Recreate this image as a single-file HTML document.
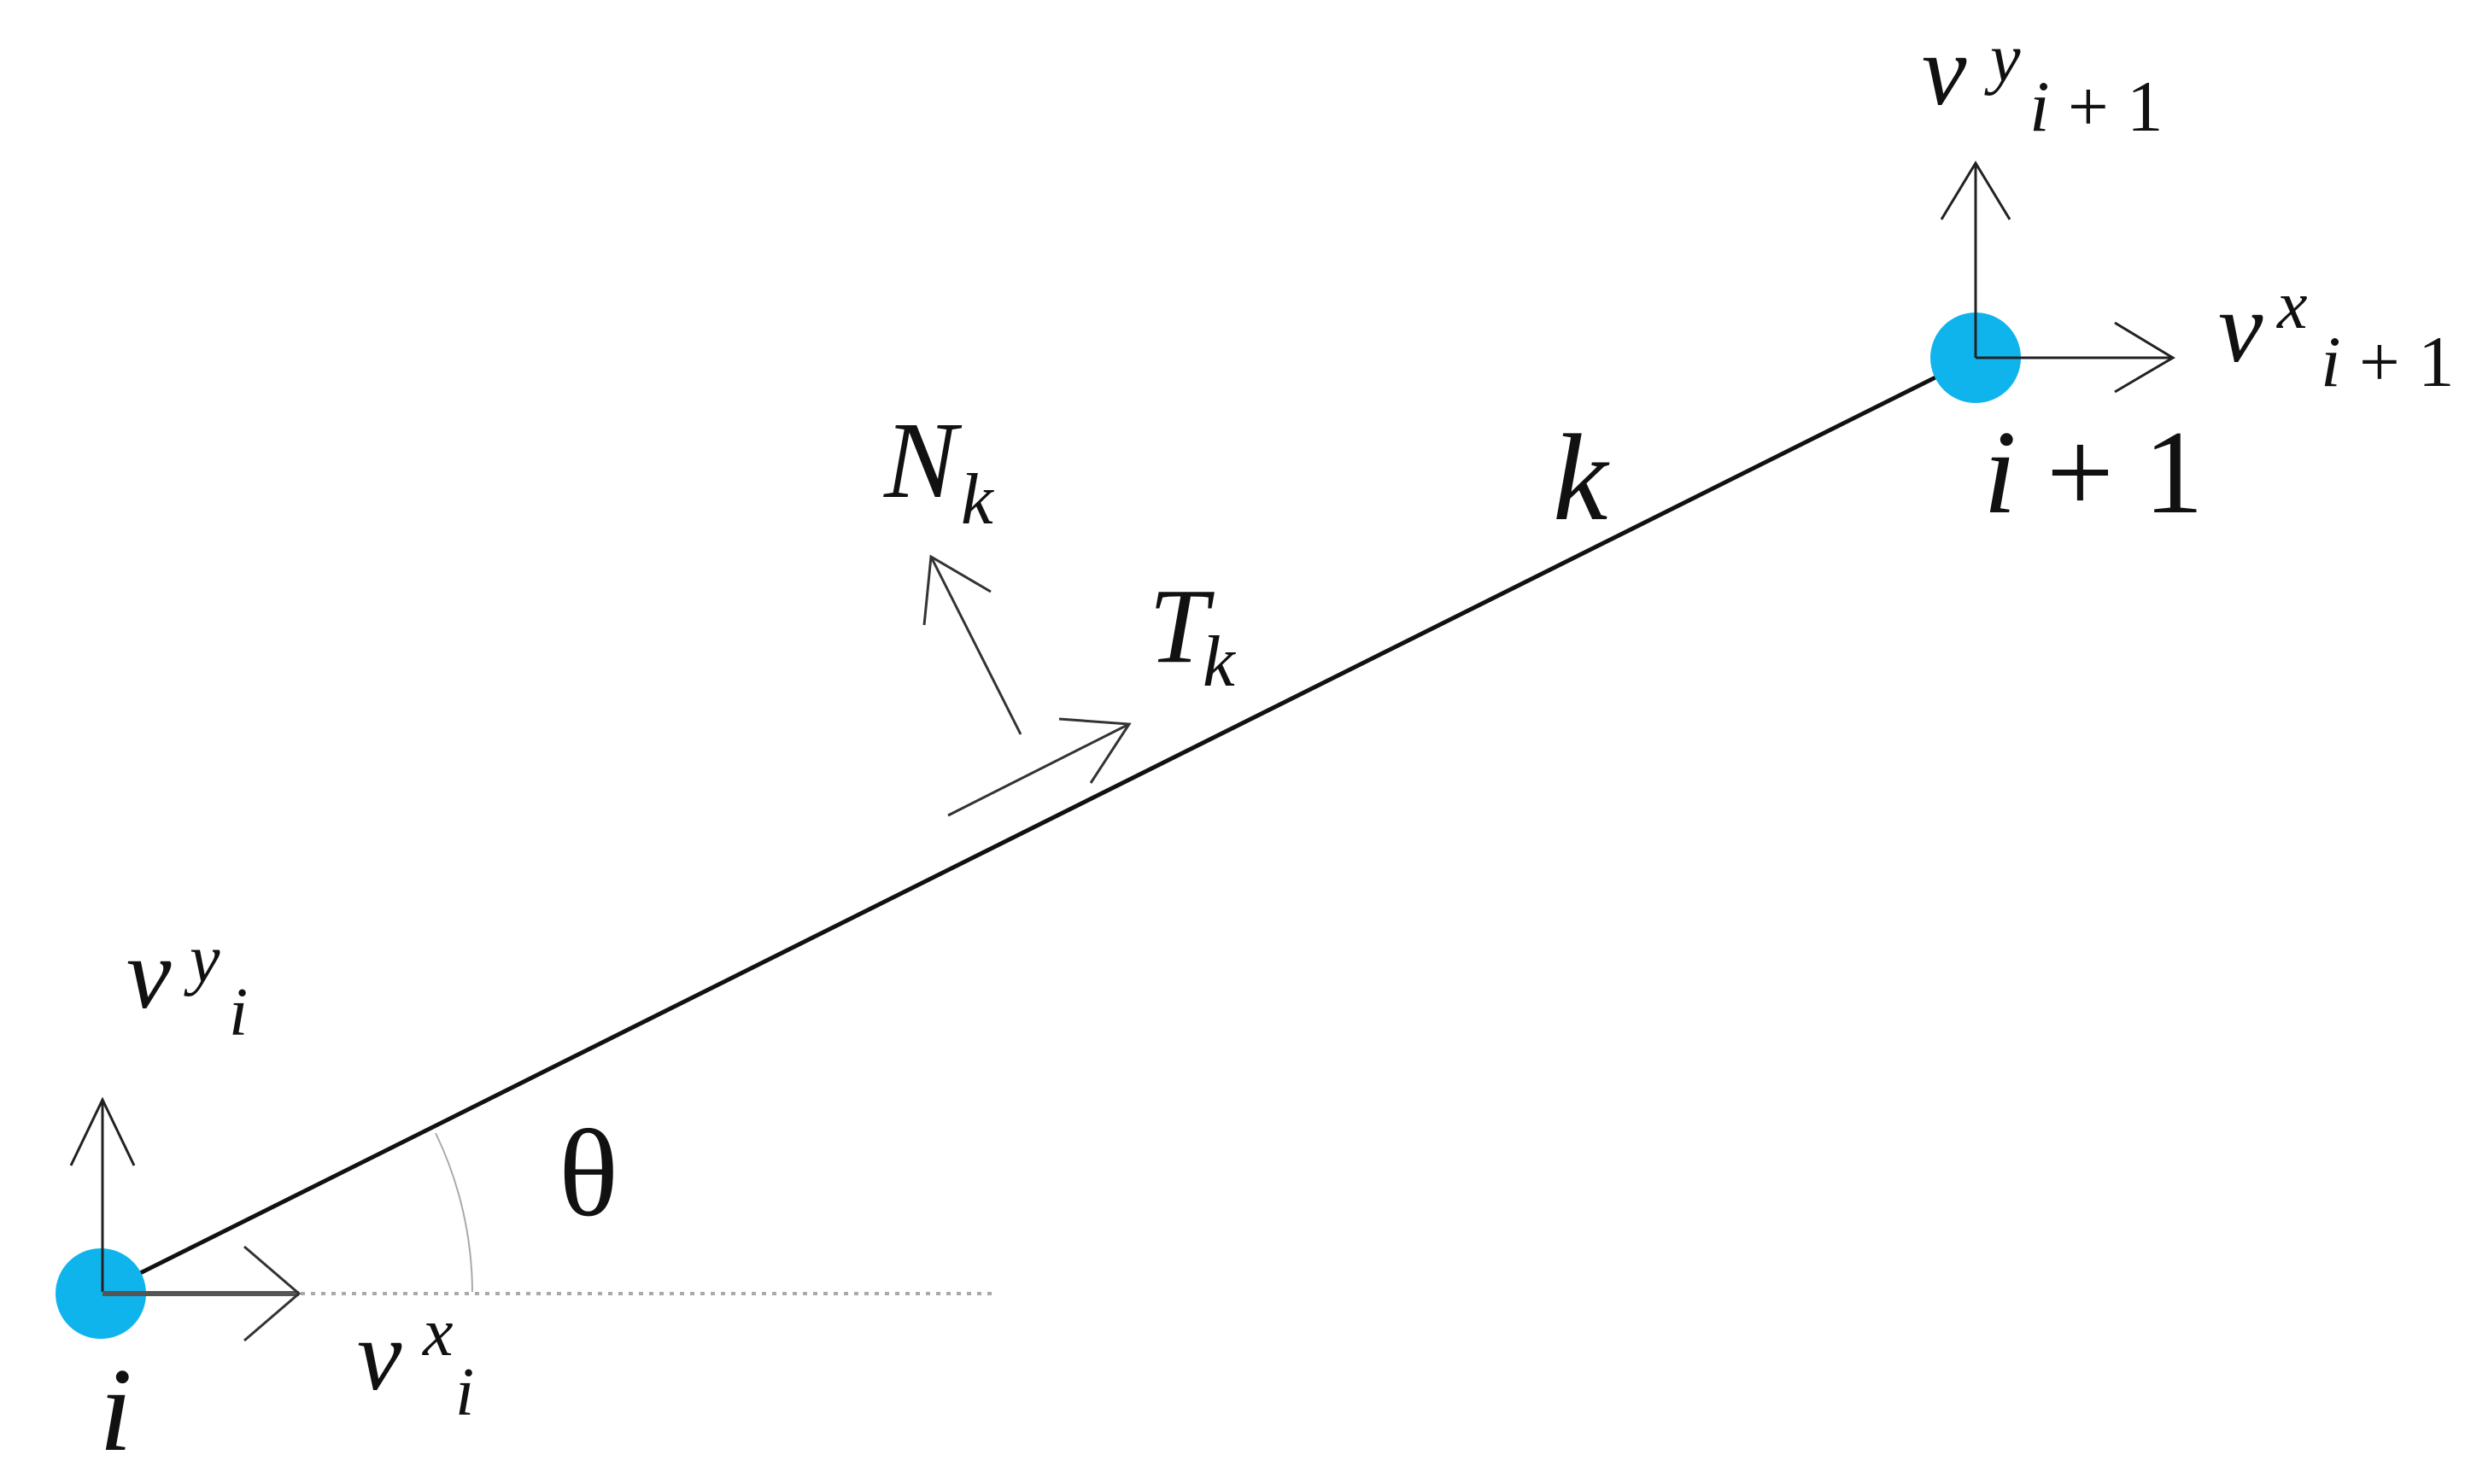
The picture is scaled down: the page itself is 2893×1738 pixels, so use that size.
<!DOCTYPE html>
<html><head><meta charset="utf-8"><style>
html,body{margin:0;padding:0;background:#fff;}
svg{display:block;}
</style></head><body>
<svg width="2893" height="1738" viewBox="0 0 2893 1738" xmlns="http://www.w3.org/2000/svg">
<rect width="2893" height="1738" fill="#fff"/>
<line x1="352" y1="1515" x2="1162" y2="1515" stroke="#aaa" stroke-width="4" stroke-dasharray="5,7"/>
<path d="M553,1513 A433,433 0 0 0 510,1327" fill="none" stroke="#aaa" stroke-width="2"/>
<line x1="120" y1="1513" x2="2290" y2="430" stroke="#111" stroke-width="5"/>
<circle cx="118" cy="1515" r="53" fill="#10b4ec"/>
<line x1="120" y1="1513" x2="120" y2="1288" stroke="#222" stroke-width="3"/>
<polyline points="83,1365 120,1288 157,1365" fill="none" stroke="#222" stroke-width="3"/>
<line x1="120" y1="1515" x2="350" y2="1515" stroke="#555" stroke-width="6"/>
<polyline points="286,1460 350,1515 286,1570" fill="none" stroke="#333" stroke-width="3"/>
<circle cx="2313" cy="419" r="53" fill="#10b4ec"/>
<line x1="2313" y1="419" x2="2313" y2="191" stroke="#222" stroke-width="3"/>
<polyline points="2273,257 2313,191 2353,257" fill="none" stroke="#222" stroke-width="3"/>
<line x1="2313" y1="419" x2="2544" y2="419" stroke="#222" stroke-width="3"/>
<polyline points="2476,378 2544,419 2476,459" fill="none" stroke="#222" stroke-width="3"/>
<line x1="1195" y1="860" x2="1090" y2="652" stroke="#333" stroke-width="3"/>
<polyline points="1082,732 1090,652 1160,693" fill="none" stroke="#333" stroke-width="3"/>
<line x1="1110" y1="955" x2="1322" y2="848" stroke="#333" stroke-width="3"/>
<polyline points="1240,842 1322,848 1277,917" fill="none" stroke="#333" stroke-width="3"/>
<g font-family="Liberation Serif, Times New Roman, serif" font-style="italic" fill="#111">
<text x="148" y="1180" font-size="118">v</text>
<text x="222" y="1150" font-size="80">y</text>
<text x="268" y="1212" font-size="80">i</text>
<text x="418" y="1627" font-size="118">v</text>
<text x="495" y="1587" font-size="80">x</text>
<text x="533" y="1657" font-size="80">i</text>
<text x="116" y="1698" font-size="140">i</text>
<text x="654" y="1423" font-size="146" font-style="normal">θ</text>
<text x="1035" y="582" font-size="128">N</text>
<text x="1125" y="613" font-size="85">k</text>
<text x="1345" y="775" font-size="125">T</text>
<text x="1408" y="803" font-size="85">k</text>
<text x="1818" y="608" font-size="145">k</text>
<text x="2250" y="122" font-size="118">v</text>
<text x="2330" y="95" font-size="80">y</text>
<text x="2376" y="153" font-size="85">i <tspan font-style="normal">+ 1</tspan></text>
<text x="2597" y="423" font-size="118">v</text>
<text x="2666" y="384" font-size="80">x</text>
<text x="2717" y="452" font-size="85">i <tspan font-style="normal">+ 1</tspan></text>
<text x="2322" y="600" font-size="140">i <tspan font-style="normal">+ 1</tspan></text>
</g>
</svg>
</body></html>
